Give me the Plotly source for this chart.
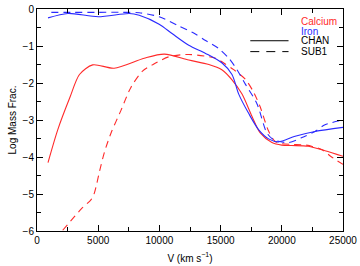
import plotly.graph_objects as go

# Calcium, CHAN model (solid red)
ca_chan_v = [900, 1700, 2700, 3470, 4550, 6300, 8760, 10400, 12400, 14040, 15100,
             15900, 16750, 17560, 18240, 19190, 20000, 20810, 22170, 23530, 25000]
ca_chan = [-4.15, -3.26, -2.38, -1.77, -1.51, -1.60, -1.33, -1.22, -1.38, -1.50, -1.64,
           -1.90, -2.30, -2.90, -3.35, -3.61, -3.68, -3.69, -3.71, -3.83, -3.98]

# Calcium, SUB1 model (dashed red)
ca_sub_v = [2100, 2520, 3600, 4420, 4690, 5100, 5500, 6050, 6860, 7670, 8620, 9430,
            10790, 12400, 14580, 15260, 16070, 17020, 17700, 18240, 18920, 19460,
            20000, 20810, 22000, 23250, 24070, 25000]
ca_sub = [-5.98, -5.82, -5.41, -5.15, -4.97, -4.40, -3.88, -3.35, -2.74, -2.12, -1.68, -1.51,
          -1.29, -1.23, -1.33, -1.46, -1.64, -1.90, -2.25, -2.65, -3.30, -3.58,
          -3.64, -3.66, -3.68, -3.80, -4.00, -4.20]

# Iron, CHAN model (solid blue)
fe_chan_v = [900, 2520, 5000, 7540, 8350, 9980, 11060, 12400, 13770, 15120, 15930,
             16480, 17290, 18100, 18920, 19730, 21090, 22710, 25000]
fe_chan = [-0.24, -0.12, -0.21, -0.12, -0.17, -0.41, -0.67, -0.98, -1.20, -1.46, -1.77,
           -2.30, -2.82, -3.26, -3.51, -3.59, -3.44, -3.31, -3.20]

# Iron, SUB1 model (dashed blue)
fe_sub_v = [1170, 3000, 5000, 7000, 8350, 9980, 11590, 12800, 13770, 14850, 15670,
            16340, 17020, 17970, 18780, 19320, 20540, 21600, 22710, 23530, 25000]
fe_sub = [-0.09, -0.09, -0.09, -0.09, -0.10, -0.21, -0.46, -0.65, -0.85, -1.07, -1.33,
          -1.64, -2.03, -2.56, -3.35, -3.53, -3.61, -3.48, -3.31, -3.13, -3.00]

x_ticks = [0, 5000, 10000, 15000, 20000, 25000]
y_ticks = [0, -1, -2, -3, -4, -5, -6]
y_labels = ["0", "\u22121", "\u22122", "\u22123", "\u22124", "\u22125", "\u22126"]

RED = "#ff2a2a"
BLUE = "#2a2aff"
FONT = "Liberation Sans, Arial, sans-serif"

fig = go.Figure()
fig.add_trace(go.Scatter(x=ca_chan_v, y=ca_chan, mode="lines",
                         line=dict(color=RED, width=1.1, shape="spline", smoothing=0.8)))
fig.add_trace(go.Scatter(x=ca_sub_v, y=ca_sub, mode="lines",
                         line=dict(color=RED, width=1.1, shape="spline", smoothing=0.8, dash="7px,5px")))
fig.add_trace(go.Scatter(x=fe_chan_v, y=fe_chan, mode="lines",
                         line=dict(color=BLUE, width=1.1, shape="spline", smoothing=0.8)))
fig.add_trace(go.Scatter(x=fe_sub_v, y=fe_sub, mode="lines",
                         line=dict(color=BLUE, width=1.1, shape="spline", smoothing=0.8, dash="7px,5px")))

axis_common = dict(showline=True, linecolor="black", linewidth=1, mirror="allticks",
                   ticks="inside", ticklen=6, tickcolor="black", tickwidth=1,
                   showgrid=False, zeroline=False, ticklabeloverflow="allow",
                   tickfont=dict(family=FONT, size=10, color="black"))

fig.update_xaxes(range=[0, 25000], tickvals=x_ticks, ticktext=[str(v) for v in x_ticks],
                 minor=dict(dtick=2500, ticks="inside", ticklen=4, tickcolor="black", showgrid=False),
                 title=dict(text="V (km s<sup>\u22121</sup>)", font=dict(family=FONT, size=10, color="black"),
                            standoff=9),
                 **axis_common)
fig.update_yaxes(range=[-6, 0], tickvals=y_ticks, ticktext=y_labels,
                 minor=dict(dtick=0.5, ticks="inside", ticklen=4, tickcolor="black", showgrid=False),
                 title=dict(text="Log Mass Frac.", font=dict(family=FONT, size=10, color="black"),
                            standoff=4),
                 **axis_common)

# legend as text + sample lines
leg_x = 0.856
fig.add_annotation(x=leg_x, y=0.945, xref="paper", yref="paper", text="Calcium", showarrow=False,
                   xanchor="left", yanchor="middle", font=dict(family=FONT, size=10, color=RED))
fig.add_annotation(x=leg_x, y=0.90, xref="paper", yref="paper", text="Iron", showarrow=False,
                   xanchor="left", yanchor="middle", font=dict(family=FONT, size=10, color=BLUE))
fig.add_annotation(x=leg_x, y=0.857, xref="paper", yref="paper", text="CHAN", showarrow=False,
                   xanchor="left", yanchor="middle", font=dict(family=FONT, size=10, color="black"))
fig.add_annotation(x=leg_x, y=0.808, xref="paper", yref="paper", text="SUB1", showarrow=False,
                   xanchor="left", yanchor="middle", font=dict(family=FONT, size=10, color="black"))
fig.add_shape(type="line", xref="paper", yref="paper", x0=0.697, x1=0.822, y0=0.857, y1=0.857,
              line=dict(color="black", width=1))
fig.add_shape(type="line", xref="paper", yref="paper", x0=0.697, x1=0.822, y0=0.808, y1=0.808,
              line=dict(color="black", width=1, dash="9px,7px"))

fig.update_layout(width=360, height=266, margin=dict(l=37, r=15, t=3, b=35),
                  plot_bgcolor="white", paper_bgcolor="white", showlegend=False,
                  font=dict(family=FONT, size=10, color="black"))

fig.write_html("out.html", config={"displayModeBar": False},
               post_script="document.body.style.margin='0';document.body.style.overflow='hidden';")
